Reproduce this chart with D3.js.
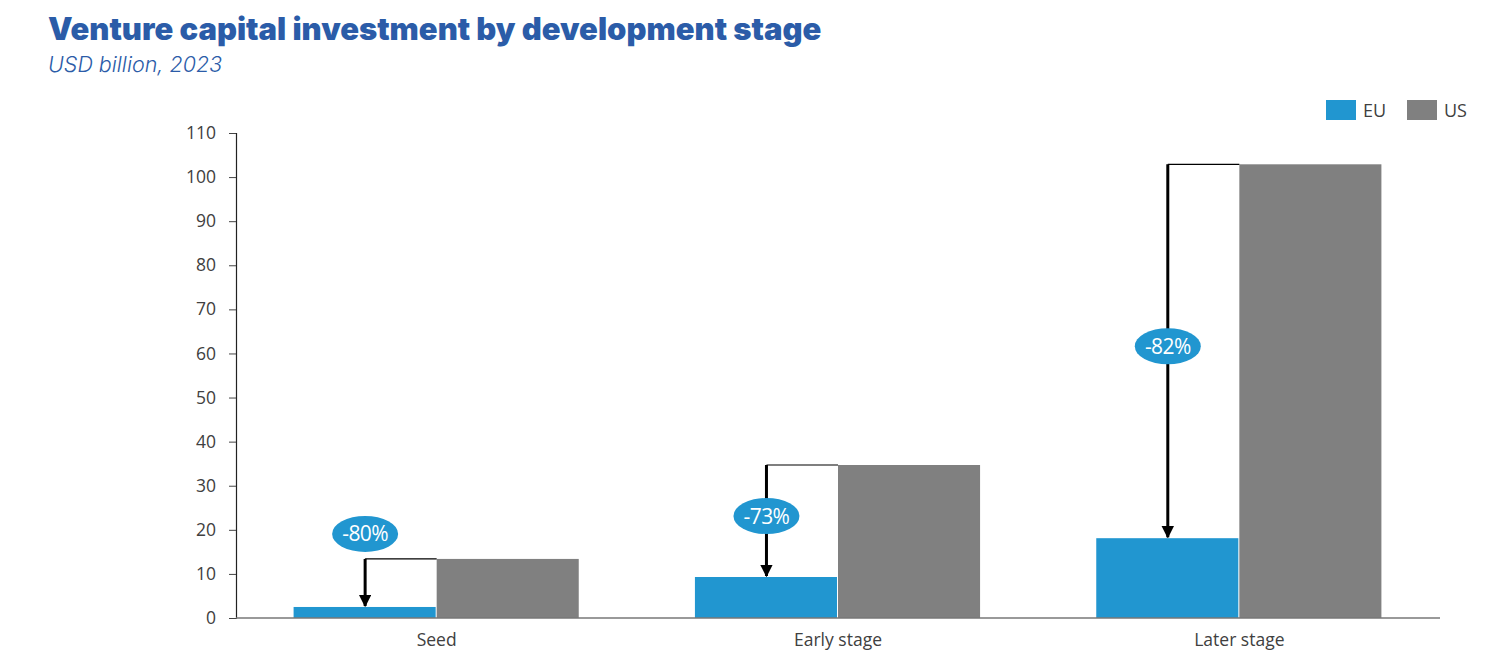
<!DOCTYPE html>
<html>
<head>
<meta charset="utf-8">
<script src="https://cdn.jsdelivr.net/npm/d3@7"></script>
<style>
  body { margin: 0; background: #fff; }
  svg { display: block; }
  .tick text { font-family: "Open Sans", "Noto Sans", sans-serif; font-size: 17.5px; fill: #404040; }
</style>
</head>
<body>
<svg id="chart"></svg>
<script>
const categories = ["Seed", "Early stage", "Later stage"]
const seriesNames = ["EU", "US"]
const euValues = [2.5, 9.3, 18.1]
const usValues = [13.4, 34.7, 102.9]
const gapLabels = ["-80%", "-73%", "-82%"]
const yTicks = [0, 10, 20, 30, 40, 50, 60, 70, 80, 90, 100, 110]

var width = 1510, height = 670
var colors = ["#2196d0", "#808080"]
var margin = {top: 133, right: 70, bottom: 52, left: 236}

var svg = d3.select("#chart")
    .attr("width", width)
    .attr("height", height)

svg.append("text")
    .text("Venture capital investment by development stage")
    .attr("x", 48).attr("y", 40)
    .style("font-family", "Inter, 'Noto Sans', sans-serif")
    .style("font-weight", 900)
    .style("font-size", "31px")
    .style("letter-spacing", "0px")
    .style("fill", "#2b5ca8")

svg.append("text")
    .text("USD billion, 2023")
    .attr("x", 48).attr("y", 72)
    .style("font-family", "Inter, 'Noto Sans', sans-serif")
    .style("font-weight", 300)
    .style("font-style", "italic")
    .style("font-size", "21.5px")
    .style("fill", "#2b5ca8")

var x = d3.scaleBand()
    .domain(categories)
    .range([margin.left, width - margin.right])
    .paddingInner(0.287)
    .paddingOuter(0.1435)

var xSub = d3.scaleBand()
    .domain(seriesNames)
    .range([0, x.bandwidth()])

var y = d3.scaleLinear()
    .domain([0, 110])
    .range([height - margin.bottom, margin.top])

// y axis
var yAxis = svg.append("g")
    .attr("transform", `translate(${margin.left},0)`)
    .call(d3.axisLeft(y).tickValues(yTicks).tickSize(7).tickPadding(13))
yAxis.select(".domain").attr("stroke", "#222").attr("stroke-width", 1.2)
yAxis.selectAll(".tick line").attr("stroke", "#444")

// bars
const rows = categories.map((c, i) => ({cat: c, EU: euValues[i], US: usValues[i], label: gapLabels[i]}))

const groups = svg.selectAll("g.stage")
    .data(rows)
    .enter().append("g")
    .attr("class", "stage")
    .attr("transform", d => `translate(${x(d.cat)},0)`)

groups.selectAll("rect")
    .data(d => seriesNames.map(k => ({key: k, value: d[k]})))
    .enter().append("rect")
    .attr("x", d => xSub(d.key))
    .attr("y", d => y(d.value))
    .attr("width", xSub.bandwidth() - 1)
    .attr("height", d => y(0) - y(d.value))
    .attr("fill", (d, i) => colors[i])

// x axis
var xAxis = svg.append("g")
    .attr("transform", `translate(0,${y(0)})`)
    .call(d3.axisBottom(x).tickSize(0).tickPadding(16))
xAxis.select(".domain").attr("stroke", "#777").attr("stroke-width", 1.5)
    .attr("d", `M${margin.left},0H${width - margin.right}`)

// arrows
svg.append("defs").append("marker")
    .attr("id", "head")
    .attr("viewBox", "0 0 10 10")
    .attr("refX", 9).attr("refY", 5)
    .attr("markerWidth", 4.2).attr("markerHeight", 4.2)
    .attr("orient", "auto")
    .append("path")
    .attr("d", "M0,0L10,5L0,10Z")
    .attr("fill", "#000")

groups.each(function(d, i) {
    const g = d3.select(this)
    const ax = xSub("EU") + xSub.bandwidth() / 2
    g.append("line")
        .attr("x1", ax).attr("x2", xSub("US"))
        .attr("y1", y(d.US)).attr("y2", y(d.US))
        .attr("stroke", "#000").attr("stroke-width", 1.2)
    g.append("line")
        .attr("x1", ax).attr("x2", ax)
        .attr("y1", y(d.US)).attr("y2", y(d.EU) - 1)
        .attr("stroke", "#000").attr("stroke-width", 3)
        .attr("marker-end", "url(#head)")

    // label bubble: above the line for the small gap, in the middle otherwise
    const ly = i == 0 ? y(d.US) - 25 : (y(d.US) + y(d.EU)) / 2 - 5
    g.append("ellipse")
        .attr("cx", ax).attr("cy", ly)
        .attr("rx", 33).attr("ry", 18)
        .attr("fill", colors[0])
    g.append("text")
        .text(d.label)
        .attr("x", ax).attr("y", ly + 7.5)
        .attr("text-anchor", "middle")
        .style("font-family", "'Open Sans', 'Noto Sans', sans-serif")
        .style("font-size", "21px")
        .style("letter-spacing", "-0.6px")
        .style("fill", "#fff")
})

// legend
const legend = svg.append("g").attr("class", "legend")
const legendX = [1326, 1407]
seriesNames.forEach((s, i) => {
    legend.append("rect")
        .attr("x", legendX[i]).attr("y", 100)
        .attr("width", 30).attr("height", 20)
        .attr("fill", colors[i])
    legend.append("text")
        .text(s)
        .attr("x", legendX[i] + 37).attr("y", 117)
        .style("font-family", "'Open Sans', 'Noto Sans', sans-serif")
        .style("font-size", "18px")
        .style("fill", "#404040")
})
</script>
</body>
</html>
